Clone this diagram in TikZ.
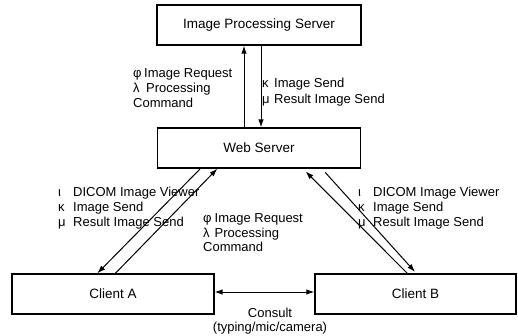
\documentclass[tikz,border=0pt]{standalone}
\usepackage{fontspec}
\setmainfont{Liberation Sans}
\usetikzlibrary{arrows.meta,calc}
\newcommand\gk[2]{\makebox[#2pt][l]{#1}}
\begin{document}
\begin{tikzpicture}[x=1pt,y=-1pt,
  box/.style={draw,line width=1.3pt,inner sep=0pt,minimum height=40pt,font=\fontsize{13.5}{15}\selectfont},
  arr/.style={line width=1pt,-{Latex[length=8pt,width=5.5pt]}},
  dbl/.style={line width=1pt,{Latex[length=8pt,width=5.5pt]}-{Latex[length=8pt,width=5.5pt]}},
  lbl/.style={inner sep=0pt,anchor=base west,align=left,font=\fontsize{13}{15}\selectfont}]
\useasboundingbox (0,0) rectangle (518,335);
\node[box,minimum width=204pt] (ips) at (259,25) {Image Processing Server};
\node[box,minimum width=203pt] (web) at (259,148) {Web Server};
\node[box,minimum width=202pt] (ca) at (113,294) {Client A};
\node[box,minimum width=201pt] (cb) at (415.5,294) {Client B};
% web <-> image processing server
\draw[arr] ([xshift=-15pt]web.north) -- ([xshift=-15pt]ips.south);
\draw[arr] ([xshift=2pt]ips.south) -- ([xshift=2pt]web.north);
% web <-> client A
\draw[arr] ([xshift=43.5pt]web.south west) -- ([xshift=86pt]ca.north west);
\draw[arr] ([xshift=104pt]ca.north west) -- ([xshift=60.5pt]web.south west);
% web <-> client B
\draw[arr,shorten >=4pt] ([xshift=93pt]cb.north west) -- ([xshift=146pt]web.south west);
\draw[arr,shorten <=5pt,shorten >=2pt] ([xshift=165pt]web.south west) -- ([xshift=102pt]cb.north west);
% consult
\draw[dbl] ([yshift=2pt]ca.east) -- ([yshift=2pt]cb.west);
% labels (anchor = baseline of last line)
\node[lbl] (l1) at (133,107.5) {\gk{φ}{11}Image Request\\\gk{λ}{13}Processing\\Command};
\node[lbl,font=\fontsize{13}{16}\selectfont] (l2) at (262,103.5) {\gk{κ}{12}Image Send\\\gk{μ}{12}Result Image Send};
\node[lbl] (l3) at (58,226.5) {\gk{ι}{15}DICOM Image Viewer\\\gk{κ}{15}Image Send\\\gk{μ}{15}Result Image Send};
\node[lbl,font=\fontsize{13}{14.5}\selectfont] (l4) at (203,251.5) {\gk{φ}{11.5}Image Request\\\gk{λ}{11.5}Processing\\Command};
\node[lbl] (l5) at (358,226.5) {\gk{ι}{15}DICOM Image Viewer\\\gk{κ}{15}Image Send\\\gk{μ}{15}Result Image Send};
\node[lbl,anchor=base,align=center,font=\fontsize{13}{14.5}\selectfont] (cons) at (270,331.5) {Consult\\(typing/mic/camera)};
\end{tikzpicture}
\end{document}
